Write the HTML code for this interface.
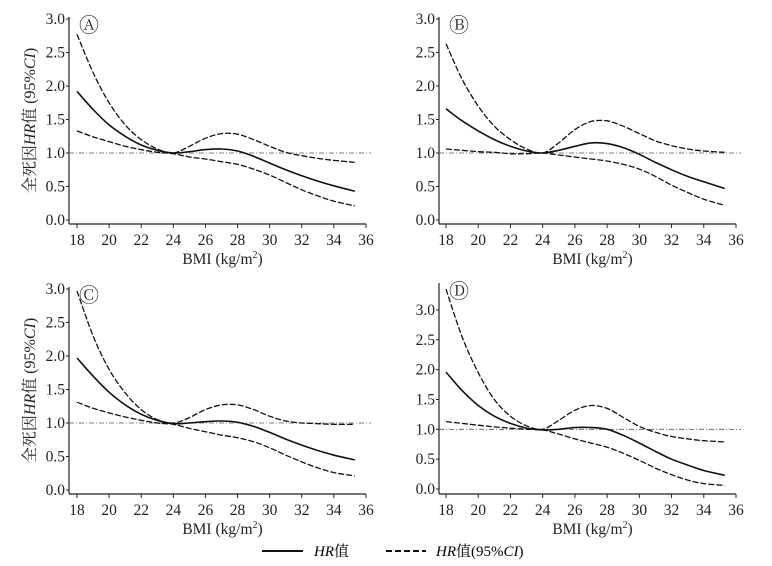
<!DOCTYPE html>
<html><head><meta charset="utf-8">
<style>
body{margin:0;background:#fff;}
svg{display:block;font-family:"Liberation Serif","Noto Serif CJK SC",serif;}
</style></head>
<body>
<svg id="chart" width="772" height="566" viewBox="0 0 772 566" xmlns="http://www.w3.org/2000/svg">
<g>
<line x1="262" y1="551" x2="303" y2="551" stroke="#111" stroke-width="2"/>
<text x="314" y="556" font-size="15"><tspan font-style="italic">HR</tspan>值</text>
<line x1="386" y1="551" x2="426" y2="551" stroke="#111" stroke-width="2" stroke-dasharray="6,3"/>
<text x="436" y="556" font-size="15"><tspan font-style="italic">HR</tspan>值(95%<tspan font-style="italic">CI</tspan>)</text>
</g>
</svg>
<script>
const xs = [18,19,20,21,22,23,24,25,26,27,28,29,30,31,32,33,34,35.3];
const xTicks = [18,20,22,24,26,28,30,32,34,36];
const yTicks = [0,0.5,1.0,1.5,2.0,2.5,3.0];
const panelLabels = ["Ⓐ","Ⓑ","Ⓒ","Ⓓ"];
const hrA = [1.92,1.65,1.42,1.25,1.12,1.04,1.0,1.02,1.05,1.06,1.03,0.95,0.85,0.75,0.66,0.58,0.51,0.43];
const upA = [2.77,2.2,1.75,1.42,1.2,1.06,1.0,1.1,1.22,1.29,1.28,1.2,1.1,1.01,0.96,0.92,0.89,0.86];
const loA = [1.33,1.24,1.17,1.1,1.05,1.01,0.99,0.94,0.91,0.87,0.83,0.76,0.67,0.56,0.45,0.36,0.28,0.21];
const hrB = [1.66,1.48,1.33,1.2,1.1,1.03,1.0,1.04,1.1,1.15,1.14,1.08,0.98,0.86,0.75,0.65,0.57,0.47];
const upB = [2.63,2.1,1.7,1.4,1.2,1.06,1.0,1.15,1.35,1.47,1.48,1.4,1.29,1.18,1.11,1.06,1.03,1.01];
const loB = [1.06,1.04,1.02,1.01,0.99,0.99,1.0,0.97,0.94,0.91,0.88,0.83,0.76,0.65,0.52,0.41,0.31,0.22];
const hrC = [1.97,1.7,1.46,1.27,1.13,1.04,0.99,1.0,1.02,1.03,1.01,0.95,0.86,0.76,0.67,0.59,0.52,0.45];
const upC = [2.97,2.3,1.8,1.45,1.2,1.05,1.0,1.08,1.2,1.27,1.27,1.2,1.1,1.03,1.0,0.99,0.98,0.98];
const loC = [1.31,1.22,1.15,1.09,1.04,1.0,0.98,0.92,0.87,0.82,0.78,0.72,0.63,0.52,0.42,0.33,0.26,0.21];
const hrD = [1.96,1.65,1.4,1.22,1.1,1.02,0.99,1.0,1.03,1.03,1.0,0.9,0.77,0.63,0.5,0.4,0.31,0.23];
const upD = [3.35,2.55,1.95,1.5,1.22,1.06,1.0,1.15,1.32,1.4,1.35,1.2,1.05,0.95,0.88,0.84,0.81,0.79];
const loD = [1.13,1.1,1.07,1.04,1.02,1.0,0.99,0.92,0.84,0.77,0.7,0.6,0.48,0.35,0.24,0.15,0.09,0.06];

const panels = [
 {name:"a",ax:69,x18:77,x36:366,y0:220,y3:19,top:17,base:224,hr:hrA,up:upA,lo:loA,ylab:true},
 {name:"b",ax:439,x18:446,x36:736,y0:220,y3:19,top:17,base:224,hr:hrB,up:upB,lo:loB,ylab:false},
 {name:"c",ax:69,x18:77,x36:366,y0:490,y3:289,top:287,base:494,hr:hrC,up:upC,lo:loC,ylab:true},
 {name:"d",ax:439,x18:446,x36:736,y0:489,y3:310,top:283,base:494,hr:hrD,up:upD,lo:loD,ylab:false}
];
const NS="http://www.w3.org/2000/svg";
const svg=document.getElementById('chart');
function mk(tag,attrs,parent){const e=document.createElementNS(NS,tag);for(const k in attrs)e.setAttribute(k,attrs[k]);parent.appendChild(e);return e;}
function smooth(pts){let d="M"+pts[0][0].toFixed(1)+","+pts[0][1].toFixed(1);
 for(let i=0;i<pts.length-1;i++){const p0=pts[Math.max(i-1,0)],p1=pts[i],p2=pts[i+1],p3=pts[Math.min(i+2,pts.length-1)];
  const c1=[p1[0]+(p2[0]-p0[0])/6,p1[1]+(p2[1]-p0[1])/6],c2=[p2[0]-(p3[0]-p1[0])/6,p2[1]-(p3[1]-p1[1])/6];
  d+=" C"+c1[0].toFixed(1)+","+c1[1].toFixed(1)+" "+c2[0].toFixed(1)+","+c2[1].toFixed(1)+" "+p2[0].toFixed(1)+","+p2[1].toFixed(1);}
 return d;}
panels.forEach((p,pi)=>{
 const g=mk('g',{},svg);
 
 
 const X=v=>p.x18+(v-18)*(p.x36-p.x18)/18;
 const Y=v=>p.y0-v*(p.y0-p.y3)/3;
 const ya=mk('line',{x1:p.ax,y1:p.top,x2:p.ax,y2:p.base,stroke:"#222","stroke-width":1.2},g);
 
 
 const xa=mk('line',{x1:p.ax,y1:p.base,x2:p.x36,y2:p.base,stroke:"#222","stroke-width":1.2},g);
 
 
 yTicks.forEach(t=>{
  mk('line',{x1:p.ax-3,y1:Y(t),x2:p.ax,y2:Y(t),stroke:"#222"},g);
  const tx=mk('text',{x:p.ax-4,y:Y(t)+5,"font-size":15.5,"text-anchor":"end",fill:"#222"},g);
  tx.textContent=t.toFixed(1);
  
  
 });
 xTicks.forEach(t=>{
  mk('line',{x1:X(t),y1:p.base,x2:X(t),y2:p.base+4,stroke:"#222"},g);
  const tx=mk('text',{x:X(t),y:p.base+21,"font-size":15.5,"text-anchor":"middle",fill:"#222"},g);
  tx.textContent=t;
  
  
 });
 const xt=mk('text',{x:(p.ax+p.x36)/2+5,y:p.base+40,"font-size":15.5,"text-anchor":"middle",fill:"#222"},g);
 xt.innerHTML='BMI (kg/m<tspan font-size="10" dy="-6">2</tspan><tspan dy="6">)</tspan>';
 
 
 if(p.ylab){
  const cy=(p.top+p.base)/2;
  const yt=mk('text',{x:0,y:0,"font-size":16,"text-anchor":"middle",fill:"#222",transform:"translate(35,"+cy+") rotate(-90)"},g);
  yt.innerHTML='全死因<tspan font-style="italic">HR</tspan>值 (95%<tspan font-style="italic">CI</tspan>)';
  
  
 }
 const lb=mk('text',{x:p.ax+10,y:p.top+15,"font-size":20,fill:"#222"},g);
 lb.textContent=panelLabels[pi];
 
 
 const ref=mk('line',{x1:p.ax,y1:Y(1),x2:p.x36+5,y2:Y(1),stroke:"#555","stroke-width":0.8,"stroke-dasharray":"5,2,1,2"},g);
 
 
 [['upper-ci',p.up,true],['lower-ci',p.lo,true],['hr-line',p.hr,false]].forEach(([nm,arr,dash])=>{
  const pts=xs.map((x,i)=>[X(x),Y(arr[i])]);
  const path=mk('path',{d:smooth(pts),fill:"none",stroke:"#111","stroke-width":dash?1.3:1.6},g);
  if(dash)path.setAttribute('stroke-dasharray','6,2');
  
  
 });
});
</script>
</body></html>
